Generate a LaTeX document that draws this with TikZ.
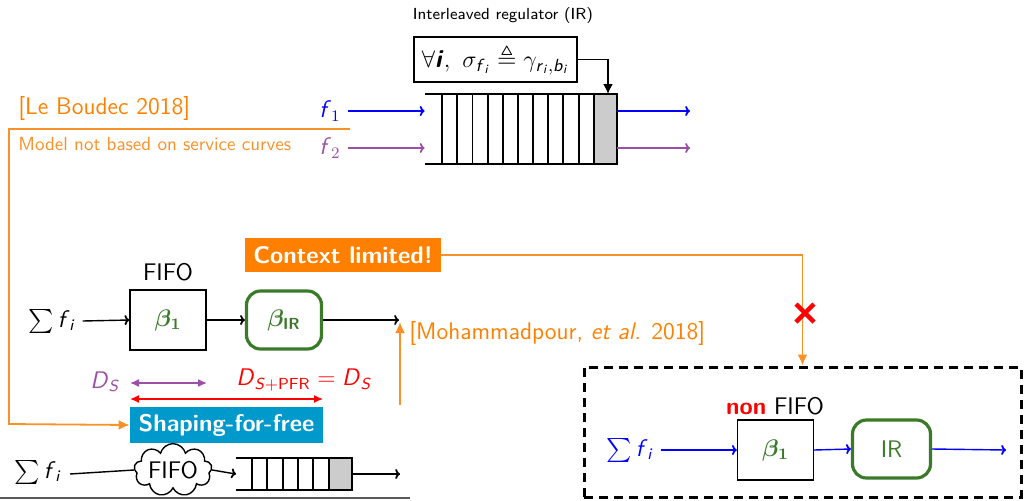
\documentclass[tikz,border=0pt]{standalone}
\usepackage{amsmath,amssymb,bm}
\usetikzlibrary{shapes.symbols,arrows.meta}
\definecolor{bOrange}{RGB}{255,128,0}
\definecolor{lOrange}{RGB}{250,145,40}
\definecolor{bCyan}{RGB}{0,153,204}
\definecolor{bPurple}{RGB}{155,80,165}
\definecolor{bGreen}{RGB}{58,122,42}
\newcommand\sv[1]{\textsf{\textit{#1}}}
\tikzset{
  big/.style={font=\sffamily\fontsize{12}{14}\selectfont},
  small/.style={font=\sffamily\fontsize{8}{9}\selectfont},
  flow/.style={-{To[length=2.4pt,width=5pt,line width=0.9pt]}, line width=0.7pt},
  srvbox/.style={draw, line width=0.7pt, minimum width=38pt, minimum height=30pt, inner sep=0pt},
  irbox/.style={draw=bGreen, line width=1.6pt, rounded corners=7pt, minimum width=37.5pt, minimum height=29pt, inner sep=0pt, text=bGreen},
  oline/.style={draw=lOrange, line width=0.9pt},
  otip/.style={-{Latex[length=5.5pt,width=5pt]}},
  banner/.style={text=white, inner sep=0pt, font=\sffamily\bfseries\fontsize{12}{14}\selectfont},
  cell/.style={line width=0.6pt},
  qedge/.style={line width=1.1pt},
  dbl/.style={{Latex[length=4.5pt,width=4pt]}-{Latex[length=4.5pt,width=4pt]}, line width=0.7pt}
}
\begin{document}
\begin{tikzpicture}[x=0.5pt,y=-0.5pt,big]
\useasboundingbox (0,0) rectangle (1024,500);

% ---------- interleaved regulator (top) ----------
\node[small] (irlbl) at (503,15) {Interleaved regulator (IR)};
\node[draw, line width=0.8pt, minimum width=81.5pt, minimum height=22.5pt, inner sep=0pt,
      font=\fontsize{12.5}{14}\selectfont] (shape) at (495.5,59.5)
  {$\forall \textsf{\textbf{\textit{i}}},\ \sigma_{\sv{f}_{\sv{i}}} \triangleq \gamma_{\sv{r}_{\sv{i}},\sv{b}_{\sv{i}}}$};
\node[minimum width=96pt, minimum height=35pt, inner sep=0pt] (irq) at (521,129) {};
\fill[gray!40] (594,94) rectangle (617,164);
\draw[cell] (594,94) rectangle (617,164);
\foreach \x in {442,457,472.5,488,503,518,533,548,563,579}
  \draw[cell] (\x,94) -- (\x,164);
\draw[qedge] (425,94) -- (617,94);
\draw[qedge] (425,164) -- (617,164);
\draw[qedge, line width=0.8pt] (617,94) -- (617,164);
\coordinate (gin) at (608,94);
\draw[line width=0.8pt, -{Latex[length=5pt,width=5pt]}] (shape.east) -| (gin);

\node[text=blue] (f1) at (330,111) {$\sv{f}_1$};
\node[text=bPurple] (f2) at (330,148) {$\sv{f}_2$};
\coordinate (o1) at (690,111);
\coordinate (o2) at (690,148);
\draw[flow, blue] (f1.east) -- (f1.east -| irq.west);
\draw[flow, bPurple] (f2.east) -- (f2.east -| irq.west);
\draw[flow, blue] (f1.east -| irq.east) -- (o1);
\draw[flow, bPurple] (f2.east -| irq.east) -- (o2);

% ---------- Le Boudec reference ----------
\node[text=bOrange, anchor=west, inner sep=0pt] (lb) at (18,108) {[Le Boudec 2018]};
\node[text=lOrange, anchor=west, inner sep=0pt, font=\sffamily\fontsize{9.5}{11}\selectfont] (lbnote) at (18,144) {Model not based on service curves};
\coordinate (lbstart) at (350,129);

% ---------- FIFO + IR chain ----------
\node (fifolbl) at (168,272) {FIFO};
\node[srvbox] (b1) at (168,320) {\textcolor{bGreen}{$\bm{\beta_1}$}};
\node[irbox] (bir) at (284,320) {$\bm{\beta}_{\textsf{\textbf{IR}}}$};
\node (sum1) at (52,321) {$\sum \sv{f}_{\sv{i}}$};
\coordinate (out1) at (399,320);
\draw[flow] (sum1.east) -- (b1.west);
\draw[flow] (b1.east) -- (bir.west);
\draw[flow] (bir.east) -- (out1);

\node[text=bPurple] (ds) at (105,382) {$\sv{D}_{\sv{S}}$};
\coordinate (dsa) at (130,383);
\coordinate (dsb) at (207,383);
\draw[dbl, bPurple] (dsa) -- (dsb);
\node[text=red] (dspfr) at (304,380) {$\sv{D}_{\sv{S}+\textsf{PFR}} = \sv{D}_{\sv{S}}$};
\coordinate (pa) at (130,399);
\coordinate (pb) at (323,399);
\draw[dbl, red] (pa) -- (pb);

\node[banner, fill=bCyan, minimum width=96.5pt, minimum height=18pt] (sff) at (226.5,425) {Shaping-for-free};
\draw[oline, otip] (lbstart) -| (9,424) -- (sff.west);

\coordinate (mstart) at (400,405);
\draw[oline, otip] (mstart) -- (400,322);
\node[text=bOrange, anchor=west, inner sep=0pt] (moh) at (409,333) {[Mohammadpour, \textit{et al.} 2018]};

% ---------- bottom line: FIFO cloud + regulator ----------
\node (sum2) at (38,472) {$\sum \sv{f}_{\sv{i}}$};
\node[cloud, draw, line width=0.7pt, cloud puffs=9, aspect=1.7, inner sep=-1pt,
      minimum width=39pt, minimum height=22.5pt] (cloud) at (173,470) {FIFO};
\coordinate (q2in) at (236,474);
\coordinate (q2out) at (400,474);
\draw[line width=0.7pt] (70,474) -- (cloud.west);
\draw[flow] (cloud.east) -- (q2in);
\fill[gray!40] (329,458) rectangle (352,490);
\draw[cell] (329,458) rectangle (352,490);
\foreach \x in {252,267,283,298,313}
  \draw[cell] (\x,458) -- (\x,490);
\draw[qedge] (236,458) -- (352,458);
\draw[qedge] (236,490) -- (352,490);
\draw[qedge, line width=0.8pt] (352,458) -- (352,490);
\draw[flow] (352,474) -- (q2out);
\draw[gray!70!black, line width=0.8pt] (0,498) -- (410,498);

% ---------- context limited ----------
\node[banner, fill=bOrange, minimum width=98pt, minimum height=17pt] (ctx) at (343,255) {Context limited!};

% ---------- non-FIFO system ----------
\node[draw, dashed, line width=1.5pt, dash pattern=on 4.5pt off 3pt,
      minimum width=218.5pt, minimum height=65pt, inner sep=0pt] (nf) at (802.5,432) {};
\draw[oline, otip] (ctx.east) -| (nf.north);
\draw[red, line width=2.2pt] (796,304) -- (814,322) (796,322) -- (814,304);

\node (nflbl) at (775,406) {\textcolor{red}{\textbf{non}} FIFO};
\node[srvbox] (nb1) at (775.5,450) {\textcolor{bGreen}{$\bm{\beta_1}$}};
\node[irbox, minimum width=39pt] (nir) at (891.5,449) {IR};
\node[text=blue] (sum3) at (630,450) {$\sum \sv{f}_{\sv{i}}$};
\coordinate (out3) at (1006,450);
\draw[flow, blue] (sum3.east) -- (nb1.west);
\draw[flow, blue] (nb1.east) -- (nir.west);
\draw[flow, blue] (nir.east) -- (out3);
\end{tikzpicture}
\end{document}
